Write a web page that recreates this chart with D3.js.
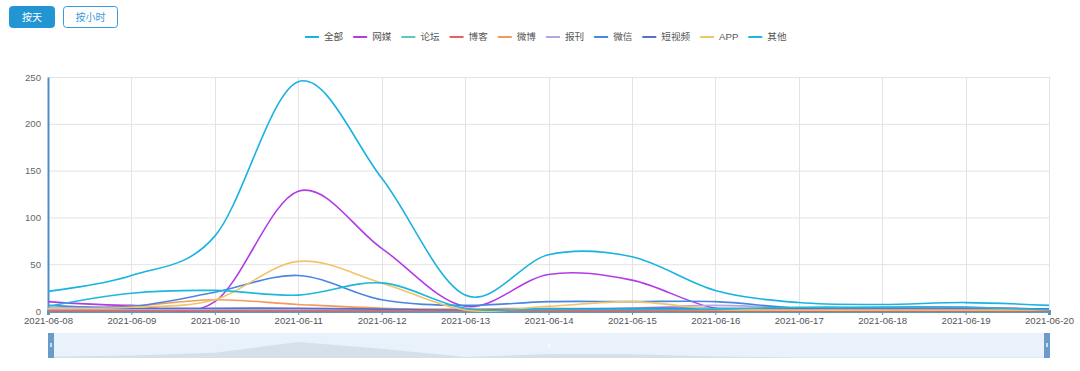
<!DOCTYPE html>
<html>
<head>
<meta charset="utf-8">
<script src="https://cdn.jsdelivr.net/npm/d3@7"></script>
<style>
  body { margin: 0; background: #fff; font-family: "Liberation Sans", Arial, "Noto Sans CJK SC", sans-serif; }
  svg { display: block; }
</style>
</head>
<body>
<div id="chart"></div>
<script>
// dates on the x axis
const dates = ["2021-06-08", "2021-06-09", "2021-06-10", "2021-06-11", "2021-06-12", "2021-06-13", "2021-06-14",
  "2021-06-15", "2021-06-16", "2021-06-17", "2021-06-18", "2021-06-19", "2021-06-20"];
const yTicks = [0, 50, 100, 150, 200, 250];

const seriesNames = ["全部", "网媒", "论坛", "博客", "微博", "报刊", "微信", "短视频", "APP", "其他"];
const seriesColors = ["#1ab3e0", "#b23be6", "#5fc9c0", "#e8605f", "#f39a5a", "#b0a8e0", "#4a86e0", "#5b6fc8", "#f2c46a", "#1db8dc"];

const allData   = [21, 38, 80, 245, 142, 17, 60, 58, 22, 9, 7, 9, 6];
const webData   = [10, 6, 10, 128, 67, 5, 39, 33, 3, 3, 4, 4, 2];
const forumData = [1, 1, 1, 1, 1, 0, 1, 1, 1, 1, 1, 1, 1];
const blogData  = [0, 0, 0, 0, 0, 0, 0, 0, 0, 0, 0, 0, 0];
const weiboData = [2, 5, 12, 7, 3, 2, 3, 2, 1, 1, 1, 1, 1];
const paperData = [2, 2, 2, 2, 2, 1, 2, 3, 6, 3, 3, 3, 2];
const wechatData = [6, 5, 20, 38, 12, 6, 10, 10, 10, 3, 2, 2, 2];
const videoData = [3, 3, 3, 3, 2, 1, 2, 3, 3, 2, 2, 2, 2];
const appData   = [3, 4, 12, 53, 30, 1, 5, 10, 2, 1, 1, 1, 1];
const otherData = [5, 19, 22, 17, 30, 3, 2, 2, 2, 4, 4, 4, 1];

const seriesValues = [allData, webData, forumData, blogData, weiboData, paperData, wechatData, videoData, appData, otherData];

const width = 1080, height = 371;
const margin = { top: 77, right: 31, bottom: 60, left: 48 };

const svg = d3.select("#chart").append("svg")
  .attr("width", width)
  .attr("height", height);

// buttons
const btns = [
  { label: "按天", x: 9, w: 45, active: true },
  { label: "按小时", x: 63, w: 54, active: false }
];
btns.forEach(b => {
  svg.append("rect")
    .attr("x", b.x + 0.5).attr("y", 6.5)
    .attr("width", b.w).attr("height", 21)
    .attr("rx", 3)
    .attr("fill", b.active ? "#2196d3" : "#fff")
    .attr("stroke", b.active ? "#2196d3" : "#3a9ad9");
  svg.append("text")
    .attr("x", b.x + b.w / 2 + 0.5).attr("y", 20.5)
    .attr("text-anchor", "middle")
    .attr("font-size", "10px")
    .attr("fill", b.active ? "#fff" : "#3a9ad9")
    .text(b.label);
});

// scales
const x = d3.scalePoint()
  .domain(dates)
  .range([margin.left, width - margin.right]);

const y = d3.scaleLinear()
  .domain([0, 250])
  .range([height - margin.bottom, margin.top]);

// grid
const g = svg.append("g");
g.selectAll(".hgrid")
  .data(yTicks)
  .enter().append("line")
  .attr("x1", margin.left).attr("x2", width - margin.right)
  .attr("y1", d => y(d) + 0.5).attr("y2", d => y(d) + 0.5)
  .attr("stroke", "#e3e3e3");
g.selectAll(".vgrid")
  .data(dates)
  .enter().append("line")
  .attr("x1", d => Math.round(x(d)) + 0.5).attr("x2", d => Math.round(x(d)) + 0.5)
  .attr("y1", margin.top).attr("y2", height - margin.bottom)
  .attr("stroke", "#e3e3e3");

// y axis
const yAxis = svg.append("g")
  .attr("transform", `translate(${margin.left},0)`)
  .call(d3.axisLeft(y).tickValues(yTicks).tickSize(0).tickPadding(7));
yAxis.select(".domain").attr("stroke", "#4a8fcc").attr("stroke-width", 2);
yAxis.selectAll("text").attr("fill", "#666").attr("font-size", "9.6px")
  .attr("font-family", "Liberation Sans, Arial, sans-serif");

// x axis
const xAxis = svg.append("g")
  .attr("transform", `translate(0,${height - margin.bottom})`)
  .call(d3.axisBottom(x).tickSize(4).tickPadding(2));
xAxis.select(".domain").attr("stroke", "#5b9ab8").attr("stroke-width", 3);
xAxis.selectAll("line").attr("stroke", "#5b8fbf");
xAxis.selectAll("text").attr("fill", "#555").attr("font-size", "9.6px")
  .attr("font-family", "Liberation Sans, Arial, sans-serif");

// lines
const line = d3.line()
  .x((d, i) => x(dates[i]))
  .y(d => y(d))
  .curve(d3.curveCardinal.tension(0));

svg.append("clipPath").attr("id", "plotClip")
  .append("rect")
  .attr("x", margin.left).attr("y", margin.top - 5)
  .attr("width", width - margin.left - margin.right + 2)
  .attr("height", height - margin.top - margin.bottom + 6);

const lines = svg.append("g").attr("clip-path", "url(#plotClip)");
seriesValues.forEach((vals, i) => {
  lines.append("path")
    .datum(vals)
    .attr("fill", "none")
    .attr("stroke", seriesColors[i])
    .attr("stroke-width", 1.6)
    .attr("d", line);
});

// legend
const legend = svg.append("g").attr("font-size", "9.6px").attr("fill", "#333");
let lx = 305;
seriesNames.forEach((name, i) => {
  const item = legend.append("g").attr("transform", `translate(${lx},37)`);
  item.append("line")
    .attr("x1", 0).attr("x2", 14)
    .attr("stroke", seriesColors[i]).attr("stroke-width", 2);
  const t = item.append("text")
    .attr("x", 19).attr("dy", "0.35em")
    .attr("fill", "#555")
    .text(name);
  lx += 19 + t.node().getComputedTextLength() + 10;
});

// data zoom slider
const sTop = 333, sH = 25;
svg.append("rect")
  .attr("x", margin.left).attr("y", sTop)
  .attr("width", width - margin.left - margin.right).attr("height", sH)
  .attr("fill", "#e9f2fb");

const shadowY = d3.scaleLinear().domain([0, 245]).range([sTop + sH, sTop + 9]);
const shadow = d3.area()
  .x((d, i) => x(dates[i]))
  .y0(sTop + sH)
  .y1(d => shadowY(d));
svg.append("path")
  .datum(allData)
  .attr("fill", "#d5e0ea")
  .attr("d", shadow);

[margin.left, width - margin.right - 5].forEach(hx => {
  svg.append("rect")
    .attr("x", hx).attr("y", sTop)
    .attr("width", 6).attr("height", sH)
    .attr("fill", "#6a9bcb");
  svg.append("rect")
    .attr("x", hx + 2).attr("y", sTop + 10)
    .attr("width", 2).attr("height", 4)
    .attr("fill", "#c9dcee");
});
svg.append("text")
  .attr("x", (margin.left + width - margin.right) / 2).attr("y", sTop + 15)
  .attr("text-anchor", "middle")
  .attr("font-size", "7px").attr("fill", "#fff")
  .text("≡");
</script>
</body>
</html>
